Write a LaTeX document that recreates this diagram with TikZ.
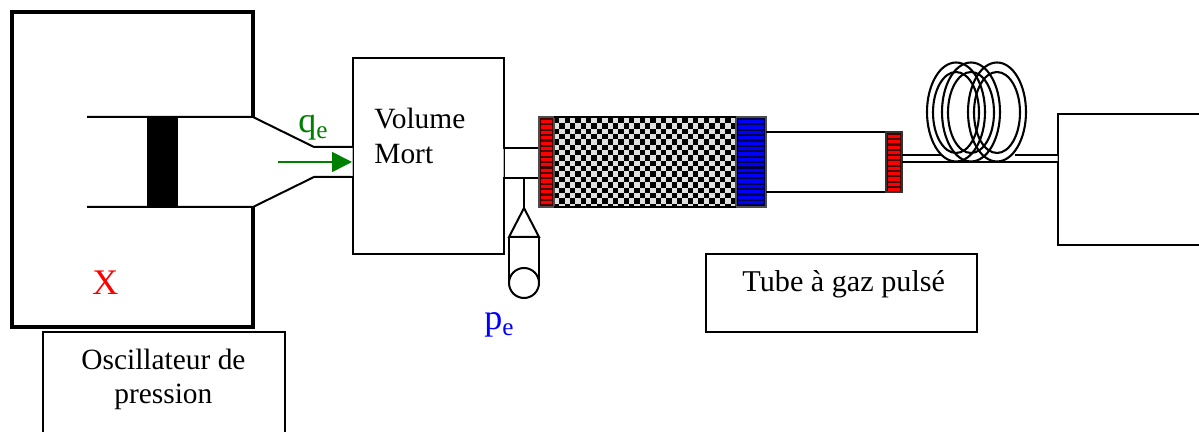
\documentclass[tikz,border=0pt]{standalone}
\usepackage{fontspec}
\setmainfont{Liberation Serif}
\usetikzlibrary{arrows.meta}
\definecolor{qgreen}{RGB}{0,128,0}
\definecolor{pblue}{RGB}{0,0,255}
\definecolor{xred}{RGB}{255,0,0}
\definecolor{dkred}{RGB}{70,0,0}
\definecolor{dkblue}{RGB}{0,0,70}
\tikzset{
  px/.style={x=0.5pt,y=-0.5pt},
  wall/.style={line width=2.1pt,black,line join=miter},
  pipe/.style={line width=1pt,black},
  boxed/.style={draw=black,line width=0.85pt,fill=white,inner sep=0pt,rectangle},
  lbl/.style={font=\fontsize{14.7}{17}\selectfont,inner sep=0pt,anchor=base west},
  sym/.style={font=\fontsize{18}{20}\selectfont,inner sep=0pt,anchor=base west},
  coil/.style={line width=1.05pt,black},
  gapline/.style={line width=0.4pt,black!30},
}
\begin{document}
\begin{tikzpicture}[px]
\useasboundingbox (0,0) rectangle (1199,432);
\fill[white] (0,0) rectangle (1199,432);
\clip (0,0) rectangle (1199,432);
% named points
\coordinate (oTL) at (12,12);
\coordinate (oTR) at (253,12);
\coordinate (oUp) at (253,117);
\coordinate (oLo) at (253,207);
\coordinate (oBR) at (253,327);
\coordinate (oBL) at (12,327);
\coordinate (cUL) at (87,117);
\coordinate (cLL) at (87,207);
\coordinate (nU) at (314,147);
\coordinate (nL) at (314,177);
\coordinate (vU) at (352,147);
\coordinate (vL) at (352,177);
\coordinate (rU) at (503,148);
\coordinate (rL) at (503,178);
\coordinate (sU) at (539,148);
\coordinate (sL) at (539,178);
\coordinate (tap) at (524,178);
\coordinate (apex) at (524,208);
\coordinate (tl) at (509,237);
\coordinate (tr) at (539,237);
\coordinate (cl) at (509,283);
\coordinate (cr) at (539,283);
\coordinate (aS) at (278,162);
\coordinate (aE) at (352,162);
% label boxes
\node[boxed,minimum width=121pt,minimum height=60pt,anchor=north west] (oscbox) at (42,331) {};
\node[boxed,minimum width=135.5pt,minimum height=39pt,anchor=north west] (tubebox) at (705,253) {};
\node[boxed,minimum width=80pt,minimum height=65.5pt,anchor=north west] (endbox) at (1057,113) {};
\node[boxed,minimum width=75.5pt,minimum height=98pt,anchor=north west] (vol) at (352,57) {};
% oscillator
\draw[wall] (oUp) -- (oTR) -- (oTL) -- (oBL) -- (oBR) -- (oLo);
\draw[pipe] (cUL) -- (oUp) -- (nU) -- (vU);
\draw[pipe] (cLL) -- (oLo) -- (nL) -- (vL);
\fill[black] (147,117) rectangle (178,207);
% gaps in volume walls
\draw[white,line width=1.2pt] (352,148) -- (352,176);
\draw[gapline] (352,148) -- (352,176);
\draw[white,line width=1.2pt] (503,149) -- (503,177);
\draw[gapline] (503,149) -- (503,177);
\draw[white,line width=1.2pt] (1057,156) -- (1057,161);
\draw[gapline] (1057,156) -- (1057,161);
% arrow
\draw[qgreen,line width=0.8pt,-{Triangle[length=10pt,width=10pt]}] (aS) -- (aE);
% tube after the volume
\draw[pipe] (rU) -- (sU);
\draw[pipe] (rL) -- (sL);
% regenerator
\fill[black!12] (554,117) rectangle (736,207);
\begin{scope}
\clip (554,118) rectangle (736,207);
\foreach \i in {0,...,34}{
  \foreach \j in {0,...,17}{
    \pgfmathtruncatemacro{\cellpar}{mod(\i+\j,2)}
    \ifnum\cellpar=0
      \fill[black] ({554+\i*5.35},{118+\j*5.35}) rectangle ({554+(\i+1)*5.35},{118+(\j+1)*5.35});
    \fi
  }
}
\end{scope}
% red and blue stacks
\fill[black!70] (538,116) rectangle (555,208);
\fill[dkred] (540,118) rectangle (553,206);
\foreach \k in {0,...,15}{\fill[xred] (541,{120+\k*5.4}) rectangle (552,{123.2+\k*5.4});}
\fill[black!70] (735,116) rectangle (767,208);
\fill[dkblue] (737,118) rectangle (765,206);
\foreach \k in {0,...,15}{\fill[pblue] (738,{120+\k*5.4}) rectangle (764,{123.2+\k*5.4});}
\draw[pipe] (554,117) -- (736,117);
\draw[pipe] (554,207) -- (736,207);
% pulse tube
\draw[pipe] (766,132) -- (886,132);
\draw[pipe] (766,192) -- (886,192);
\fill[black!80] (885,131) rectangle (903,193);
\fill[dkred] (887,133) rectangle (901,191);
\foreach \k in {0,...,10}{\fill[xred] (888,{135+\k*5.3}) rectangle (900,{138.2+\k*5.3});}
% inertance line
\coordinate (lU) at (902,155);
\coordinate (lL) at (902,162);
\coordinate (eU) at (1057,155);
\coordinate (eL) at (1057,162);
\draw[pipe] (lU) -- (942,155);
\draw[pipe] (lL) -- (eL);
\draw[pipe] (1015,155) -- (eU);
% coil
\foreach \c in {956,971,997}{
  \draw[coil] (\c,112) ellipse [x radius=29,y radius=49.5];
  \draw[coil] (\c,112.5) ellipse [x radius=23,y radius=40.5];
}
% sensor
\draw[pipe] (tap) -- (apex);
\draw[pipe] (apex) -- (tl) -- (tr) -- cycle;
\draw[pipe] (tl) -- (cl);
\draw[pipe] (tr) -- (cr);
\node[draw=black,line width=1pt,fill=white,circle,minimum size=15pt,inner sep=0pt] (gauge) at (524,283) {};
% text
\node[lbl] (tvol) at (374,129) {Volume};
\node[lbl] (tmort) at (374,164) {Mort};
\node[lbl] (tosc) at (81,370) {Oscillateur de};
\node[lbl] (tpre) at (114,404) {pression};
\node[lbl,font=\fontsize{15.1}{17}\selectfont] (ttube) at (742,292) {Tube à gaz pulsé};
\node[sym,text=xred] (tx) at (92,295) {X};
\node[sym,text=qgreen] (tq) at (298,133) {q\textsubscript{e}};
\node[sym,text=pblue] (tp) at (484,330) {p\textsubscript{e}};
\end{tikzpicture}
\end{document}
